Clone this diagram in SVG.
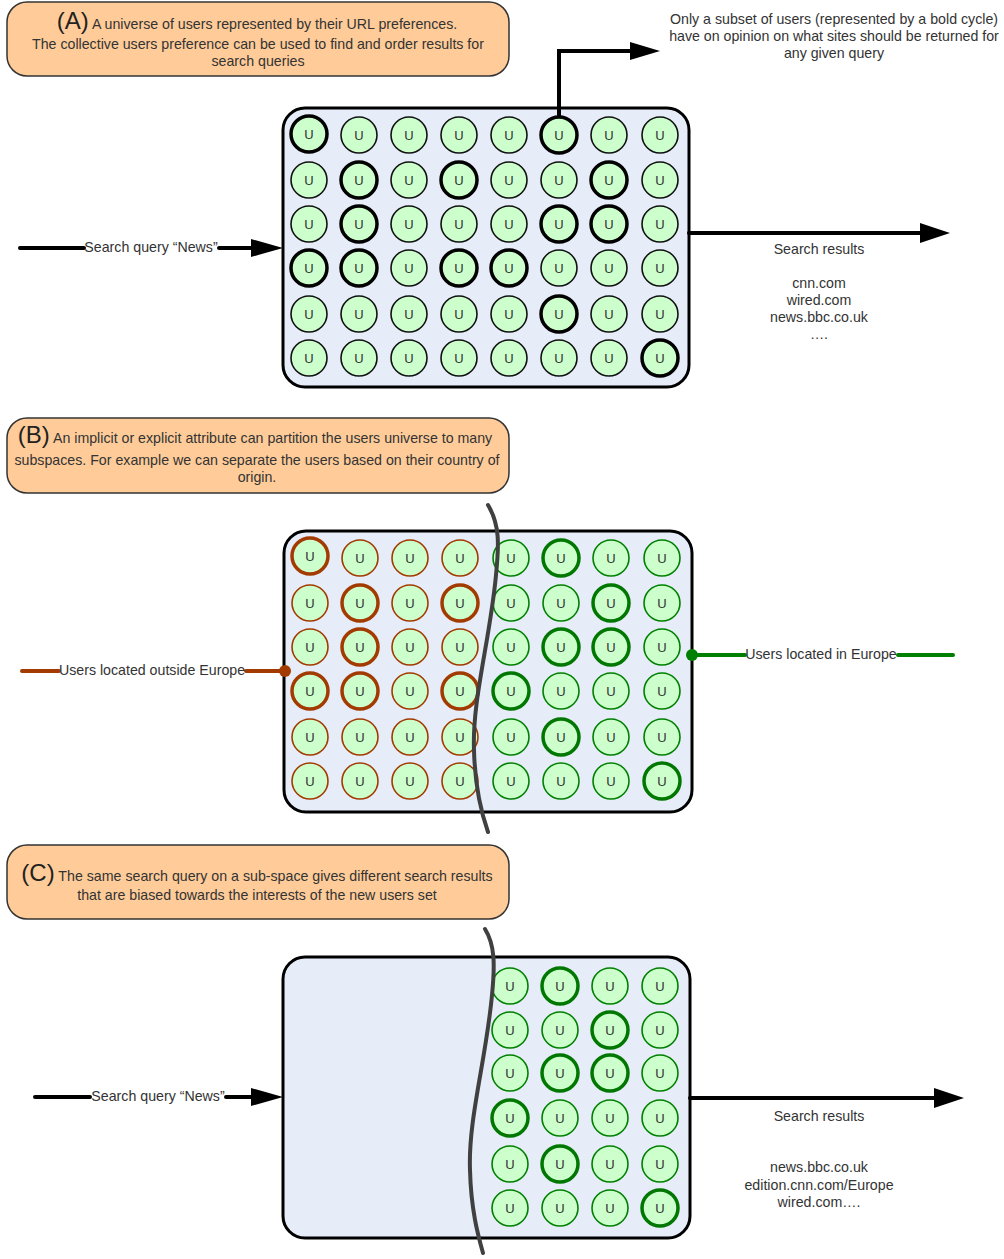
<svg xmlns="http://www.w3.org/2000/svg" width="1004" height="1259" viewBox="0 0 1004 1259">
<style>
text{font-family:"Liberation Sans",Arial,sans-serif;fill:#333;}
.t{font-size:14.2px;text-anchor:middle;}
.big{font-size:24px;fill:#222;}
.u text{font-size:13px;text-anchor:middle;fill:#333;stroke:none;}
.callout{fill:#ffcc99;stroke:#333;stroke-width:1.5;}
.box{fill:#e6ecf8;stroke:#000;stroke-width:3;}
.n{fill:#ccffcc;stroke:#111;stroke-width:1.6;}
.nb{fill:#ccffcc;stroke:#000;stroke-width:3.5;}
.br{fill:#ccffcc;stroke:#a33a00;stroke-width:1.6;}
.brb{fill:#ccffcc;stroke:#a33a00;stroke-width:3.5;}
.gr{fill:#ccffcc;stroke:#008000;stroke-width:1.6;}
.grb{fill:#ccffcc;stroke:#007700;stroke-width:3.5;}
.line{fill:none;stroke:#000;stroke-width:4;stroke-linecap:round;}
.brl{fill:none;stroke:#a33a00;stroke-width:4;stroke-linecap:round;}
.grl{fill:none;stroke:#008000;stroke-width:4;stroke-linecap:round;}
.cut{fill:none;stroke:#404040;stroke-width:4;stroke-linecap:round;}
</style>

<!-- Callouts -->
<g id="calloutA">
<rect class="callout" x="7" y="2" width="502" height="74" rx="20"/>
<text class="t" x="257" y="29"><tspan class="big">(A)</tspan> A universe of users represented by their URL preferences.</text>
<text class="t" x="258" y="49">The collective users preference can be used to find and order results for</text>
<text class="t" x="258" y="66">search queries</text>
</g>
<g id="calloutB">
<rect class="callout" x="7" y="418" width="502" height="75" rx="20"/>
<text class="t" x="255" y="443"><tspan class="big">(B)</tspan> An implicit or explicit attribute can partition the users universe to many</text>
<text class="t" x="257" y="465">subspaces. For example we can separate the users based on their country of</text>
<text class="t" x="257" y="482">origin.</text>
</g>
<g id="calloutC">
<rect class="callout" x="7" y="845" width="502" height="74" rx="20"/>
<text class="t" x="257" y="881"><tspan class="big">(C)</tspan> The same search query on a sub-space gives different search results</text>
<text class="t" x="257" y="900">that are biased towards the interests of the new users set</text>
</g>

<g id="noteTop">
<text class="t" x="834" y="24">Only a subset of users (represented by a bold cycle)</text>
<text class="t" x="834" y="41">have on opinion on what sites should be returned for</text>
<text class="t" x="834" y="58">any given query</text>
</g>

<!-- Boxes -->
<g id="universeA"><rect class="box" x="283" y="108" width="406" height="279" rx="22"/></g>
<g id="universeB"><rect class="box" x="284" y="531" width="408" height="281" rx="22"/></g>
<g id="universeC"><rect class="box" x="283" y="957" width="407" height="281" rx="22"/></g>

<!-- Connectors -->
<g id="connectors">
<path class="line" d="M559,117 V51 H632"/>
<polygon points="630,42 660,51 630,60" fill="#000"/>
<path class="line" d="M20,248 H84"/>
<path class="line" d="M219,248 H254"/>
<polygon points="251,239 283,248 251,257" fill="#000"/>
<path class="line" d="M689,233 H924"/>
<polygon points="920,223 950,233 920,243" fill="#000"/>
<path class="brl" d="M22,671 H59"/>
<path class="brl" d="M246,671 H284"/>
<circle cx="285" cy="671" r="6" fill="#a33a00"/>
<path class="grl" d="M692,655 H745"/>
<path class="grl" d="M898,655 H953"/>
<circle cx="692" cy="655" r="6" fill="#008000"/>
<path class="line" d="M35,1097 H90"/>
<path class="line" d="M226,1097 H255"/>
<polygon points="251,1088 283,1097 251,1106" fill="#000"/>
<path class="line" d="M690,1098 H937"/>
<polygon points="934,1088 964,1098 934,1108" fill="#000"/>
</g>

<!-- Labels -->
<g id="labels">
<text class="t" x="151" y="252">Search query “News”</text>
<text class="t" x="819" y="254">Search results</text>
<text class="t" x="819" y="288">cnn.com</text>
<text class="t" x="819" y="305">wired.com</text>
<text class="t" x="819" y="322">news.bbc.co.uk</text>
<text class="t" x="819" y="339">….</text>
<text class="t" x="152" y="675">Users located outside Europe</text>
<text class="t" x="821" y="659">Users located in Europe</text>
<text class="t" x="158" y="1101">Search query “News”</text>
<text class="t" x="819" y="1121">Search results</text>
<text class="t" x="819" y="1172">news.bbc.co.uk</text>
<text class="t" x="819" y="1190">edition.cnn.com/Europe</text>
<text class="t" x="819" y="1207">wired.com….</text>
</g>

<!-- Panel A users -->
<g id="usersA" class="u">
<g id="a11"><circle class="nb" cx="309" cy="134" r="18"/><text x="309" y="139">U</text></g>
<g id="a12"><circle class="n" cx="359" cy="135" r="18"/><text x="359" y="140">U</text></g>
<g id="a13"><circle class="n" cx="409" cy="135" r="18"/><text x="409" y="140">U</text></g>
<g id="a14"><circle class="n" cx="459" cy="135" r="18"/><text x="459" y="140">U</text></g>
<g id="a15"><circle class="n" cx="509" cy="135" r="18"/><text x="509" y="140">U</text></g>
<g id="a16"><circle class="nb" cx="559" cy="135" r="18"/><text x="559" y="140">U</text></g>
<g id="a17"><circle class="n" cx="609" cy="135" r="18"/><text x="609" y="140">U</text></g>
<g id="a18"><circle class="n" cx="660" cy="135" r="18"/><text x="660" y="140">U</text></g>

<g id="a21"><circle class="n" cx="309" cy="180" r="18"/><text x="309" y="185">U</text></g>
<g id="a22"><circle class="nb" cx="359" cy="180" r="18"/><text x="359" y="185">U</text></g>
<g id="a23"><circle class="n" cx="409" cy="180" r="18"/><text x="409" y="185">U</text></g>
<g id="a24"><circle class="nb" cx="459" cy="180" r="18"/><text x="459" y="185">U</text></g>
<g id="a25"><circle class="n" cx="509" cy="180" r="18"/><text x="509" y="185">U</text></g>
<g id="a26"><circle class="n" cx="559" cy="180" r="18"/><text x="559" y="185">U</text></g>
<g id="a27"><circle class="nb" cx="609" cy="180" r="18"/><text x="609" y="185">U</text></g>
<g id="a28"><circle class="n" cx="660" cy="180" r="18"/><text x="660" y="185">U</text></g>

<g id="a31"><circle class="n" cx="309" cy="224" r="18"/><text x="309" y="229">U</text></g>
<g id="a32"><circle class="nb" cx="359" cy="224" r="18"/><text x="359" y="229">U</text></g>
<g id="a33"><circle class="n" cx="409" cy="224" r="18"/><text x="409" y="229">U</text></g>
<g id="a34"><circle class="n" cx="459" cy="224" r="18"/><text x="459" y="229">U</text></g>
<g id="a35"><circle class="n" cx="509" cy="224" r="18"/><text x="509" y="229">U</text></g>
<g id="a36"><circle class="nb" cx="559" cy="224" r="18"/><text x="559" y="229">U</text></g>
<g id="a37"><circle class="nb" cx="609" cy="224" r="18"/><text x="609" y="229">U</text></g>
<g id="a38"><circle class="n" cx="660" cy="224" r="18"/><text x="660" y="229">U</text></g>

<g id="a41"><circle class="nb" cx="309" cy="268" r="18"/><text x="309" y="273">U</text></g>
<g id="a42"><circle class="nb" cx="359" cy="268" r="18"/><text x="359" y="273">U</text></g>
<g id="a43"><circle class="n" cx="409" cy="268" r="18"/><text x="409" y="273">U</text></g>
<g id="a44"><circle class="nb" cx="459" cy="268" r="18"/><text x="459" y="273">U</text></g>
<g id="a45"><circle class="nb" cx="509" cy="268" r="18"/><text x="509" y="273">U</text></g>
<g id="a46"><circle class="n" cx="559" cy="268" r="18"/><text x="559" y="273">U</text></g>
<g id="a47"><circle class="n" cx="609" cy="268" r="18"/><text x="609" y="273">U</text></g>
<g id="a48"><circle class="n" cx="660" cy="268" r="18"/><text x="660" y="273">U</text></g>

<g id="a51"><circle class="n" cx="309" cy="314" r="18"/><text x="309" y="319">U</text></g>
<g id="a52"><circle class="n" cx="359" cy="314" r="18"/><text x="359" y="319">U</text></g>
<g id="a53"><circle class="n" cx="409" cy="314" r="18"/><text x="409" y="319">U</text></g>
<g id="a54"><circle class="n" cx="459" cy="314" r="18"/><text x="459" y="319">U</text></g>
<g id="a55"><circle class="n" cx="509" cy="314" r="18"/><text x="509" y="319">U</text></g>
<g id="a56"><circle class="nb" cx="559" cy="314" r="18"/><text x="559" y="319">U</text></g>
<g id="a57"><circle class="n" cx="609" cy="314" r="18"/><text x="609" y="319">U</text></g>
<g id="a58"><circle class="n" cx="660" cy="314" r="18"/><text x="660" y="319">U</text></g>

<g id="a61"><circle class="n" cx="309" cy="358" r="18"/><text x="309" y="363">U</text></g>
<g id="a62"><circle class="n" cx="359" cy="358" r="18"/><text x="359" y="363">U</text></g>
<g id="a63"><circle class="n" cx="409" cy="358" r="18"/><text x="409" y="363">U</text></g>
<g id="a64"><circle class="n" cx="459" cy="358" r="18"/><text x="459" y="363">U</text></g>
<g id="a65"><circle class="n" cx="509" cy="358" r="18"/><text x="509" y="363">U</text></g>
<g id="a66"><circle class="n" cx="559" cy="358" r="18"/><text x="559" y="363">U</text></g>
<g id="a67"><circle class="n" cx="609" cy="358" r="18"/><text x="609" y="363">U</text></g>
<g id="a68"><circle class="nb" cx="660" cy="358" r="18"/><text x="660" y="363">U</text></g>
</g>

<!-- Panel B users -->
<g id="usersB" class="u">
<g id="b11"><circle class="brb" cx="310" cy="556" r="18"/><text x="310" y="561">U</text></g>
<g id="b12"><circle class="br" cx="360" cy="558" r="18"/><text x="360" y="563">U</text></g>
<g id="b13"><circle class="br" cx="410" cy="558" r="18"/><text x="410" y="563">U</text></g>
<g id="b14"><circle class="br" cx="460" cy="558" r="18"/><text x="460" y="563">U</text></g>
<g id="b15"><circle class="gr" cx="511" cy="558" r="18"/><text x="511" y="563">U</text></g>
<g id="b16"><circle class="grb" cx="561" cy="558" r="18"/><text x="561" y="563">U</text></g>
<g id="b17"><circle class="gr" cx="611" cy="558" r="18"/><text x="611" y="563">U</text></g>
<g id="b18"><circle class="gr" cx="662" cy="558" r="18"/><text x="662" y="563">U</text></g>

<g id="b21"><circle class="br" cx="310" cy="603" r="18"/><text x="310" y="608">U</text></g>
<g id="b22"><circle class="brb" cx="360" cy="603" r="18"/><text x="360" y="608">U</text></g>
<g id="b23"><circle class="br" cx="410" cy="603" r="18"/><text x="410" y="608">U</text></g>
<g id="b24"><circle class="brb" cx="460" cy="603" r="18"/><text x="460" y="608">U</text></g>
<g id="b25"><circle class="gr" cx="511" cy="603" r="18"/><text x="511" y="608">U</text></g>
<g id="b26"><circle class="gr" cx="561" cy="603" r="18"/><text x="561" y="608">U</text></g>
<g id="b27"><circle class="grb" cx="611" cy="603" r="18"/><text x="611" y="608">U</text></g>
<g id="b28"><circle class="gr" cx="662" cy="603" r="18"/><text x="662" y="608">U</text></g>

<g id="b31"><circle class="br" cx="310" cy="647" r="18"/><text x="310" y="652">U</text></g>
<g id="b32"><circle class="brb" cx="360" cy="647" r="18"/><text x="360" y="652">U</text></g>
<g id="b33"><circle class="br" cx="410" cy="647" r="18"/><text x="410" y="652">U</text></g>
<g id="b34"><circle class="br" cx="460" cy="647" r="18"/><text x="460" y="652">U</text></g>
<g id="b35"><circle class="gr" cx="511" cy="647" r="18"/><text x="511" y="652">U</text></g>
<g id="b36"><circle class="grb" cx="561" cy="647" r="18"/><text x="561" y="652">U</text></g>
<g id="b37"><circle class="grb" cx="611" cy="647" r="18"/><text x="611" y="652">U</text></g>
<g id="b38"><circle class="gr" cx="662" cy="647" r="18"/><text x="662" y="652">U</text></g>

<g id="b41"><circle class="brb" cx="310" cy="691" r="18"/><text x="310" y="696">U</text></g>
<g id="b42"><circle class="brb" cx="360" cy="691" r="18"/><text x="360" y="696">U</text></g>
<g id="b43"><circle class="br" cx="410" cy="691" r="18"/><text x="410" y="696">U</text></g>
<g id="b44"><circle class="brb" cx="460" cy="691" r="18"/><text x="460" y="696">U</text></g>
<g id="b45"><circle class="grb" cx="511" cy="691" r="18"/><text x="511" y="696">U</text></g>
<g id="b46"><circle class="gr" cx="561" cy="691" r="18"/><text x="561" y="696">U</text></g>
<g id="b47"><circle class="gr" cx="611" cy="691" r="18"/><text x="611" y="696">U</text></g>
<g id="b48"><circle class="gr" cx="662" cy="691" r="18"/><text x="662" y="696">U</text></g>

<g id="b51"><circle class="br" cx="310" cy="737" r="18"/><text x="310" y="742">U</text></g>
<g id="b52"><circle class="br" cx="360" cy="737" r="18"/><text x="360" y="742">U</text></g>
<g id="b53"><circle class="br" cx="410" cy="737" r="18"/><text x="410" y="742">U</text></g>
<g id="b54"><circle class="br" cx="460" cy="737" r="18"/><text x="460" y="742">U</text></g>
<g id="b55"><circle class="gr" cx="511" cy="737" r="18"/><text x="511" y="742">U</text></g>
<g id="b56"><circle class="grb" cx="561" cy="737" r="18"/><text x="561" y="742">U</text></g>
<g id="b57"><circle class="gr" cx="611" cy="737" r="18"/><text x="611" y="742">U</text></g>
<g id="b58"><circle class="gr" cx="662" cy="737" r="18"/><text x="662" y="742">U</text></g>

<g id="b61"><circle class="br" cx="310" cy="781" r="18"/><text x="310" y="786">U</text></g>
<g id="b62"><circle class="br" cx="360" cy="781" r="18"/><text x="360" y="786">U</text></g>
<g id="b63"><circle class="br" cx="410" cy="781" r="18"/><text x="410" y="786">U</text></g>
<g id="b64"><circle class="br" cx="460" cy="781" r="18"/><text x="460" y="786">U</text></g>
<g id="b65"><circle class="gr" cx="511" cy="781" r="18"/><text x="511" y="786">U</text></g>
<g id="b66"><circle class="gr" cx="561" cy="781" r="18"/><text x="561" y="786">U</text></g>
<g id="b67"><circle class="gr" cx="611" cy="781" r="18"/><text x="611" y="786">U</text></g>
<g id="b68"><circle class="grb" cx="662" cy="781" r="18"/><text x="662" y="786">U</text></g>
</g>

<!-- Panel C users -->
<g id="usersC" class="u">
<g id="c11"><circle class="gr" cx="510" cy="986" r="18"/><text x="510" y="991">U</text></g>
<g id="c12"><circle class="grb" cx="560" cy="986" r="18"/><text x="560" y="991">U</text></g>
<g id="c13"><circle class="gr" cx="610" cy="986" r="18"/><text x="610" y="991">U</text></g>
<g id="c14"><circle class="gr" cx="660" cy="986" r="18"/><text x="660" y="991">U</text></g>

<g id="c21"><circle class="gr" cx="510" cy="1030" r="18"/><text x="510" y="1035">U</text></g>
<g id="c22"><circle class="gr" cx="560" cy="1030" r="18"/><text x="560" y="1035">U</text></g>
<g id="c23"><circle class="grb" cx="610" cy="1030" r="18"/><text x="610" y="1035">U</text></g>
<g id="c24"><circle class="gr" cx="660" cy="1030" r="18"/><text x="660" y="1035">U</text></g>

<g id="c31"><circle class="gr" cx="510" cy="1073" r="18"/><text x="510" y="1078">U</text></g>
<g id="c32"><circle class="grb" cx="560" cy="1073" r="18"/><text x="560" y="1078">U</text></g>
<g id="c33"><circle class="grb" cx="610" cy="1073" r="18"/><text x="610" y="1078">U</text></g>
<g id="c34"><circle class="gr" cx="660" cy="1073" r="18"/><text x="660" y="1078">U</text></g>

<g id="c41"><circle class="grb" cx="510" cy="1118" r="18"/><text x="510" y="1123">U</text></g>
<g id="c42"><circle class="gr" cx="560" cy="1118" r="18"/><text x="560" y="1123">U</text></g>
<g id="c43"><circle class="gr" cx="610" cy="1118" r="18"/><text x="610" y="1123">U</text></g>
<g id="c44"><circle class="gr" cx="660" cy="1118" r="18"/><text x="660" y="1123">U</text></g>

<g id="c51"><circle class="gr" cx="510" cy="1164" r="18"/><text x="510" y="1169">U</text></g>
<g id="c52"><circle class="grb" cx="560" cy="1164" r="18"/><text x="560" y="1169">U</text></g>
<g id="c53"><circle class="gr" cx="610" cy="1164" r="18"/><text x="610" y="1169">U</text></g>
<g id="c54"><circle class="gr" cx="660" cy="1164" r="18"/><text x="660" y="1169">U</text></g>

<g id="c61"><circle class="gr" cx="510" cy="1208" r="18"/><text x="510" y="1213">U</text></g>
<g id="c62"><circle class="gr" cx="560" cy="1208" r="18"/><text x="560" y="1213">U</text></g>
<g id="c63"><circle class="gr" cx="610" cy="1208" r="18"/><text x="610" y="1213">U</text></g>
<g id="c64"><circle class="grb" cx="660" cy="1208" r="18"/><text x="660" y="1213">U</text></g>
</g>

<!-- partition cuts drawn above circles -->
<g id="cuts">
<path class="cut" d="M488,505 C500,525 499,545 496,575 C490,640 472,700 474,750 C475,790 482,815 488,832"/>
<path class="cut" d="M485,929 C495,945 495,965 492,995 C486,1060 468,1120 470,1170 C471,1210 478,1235 483,1253"/>
</g>
</svg>
